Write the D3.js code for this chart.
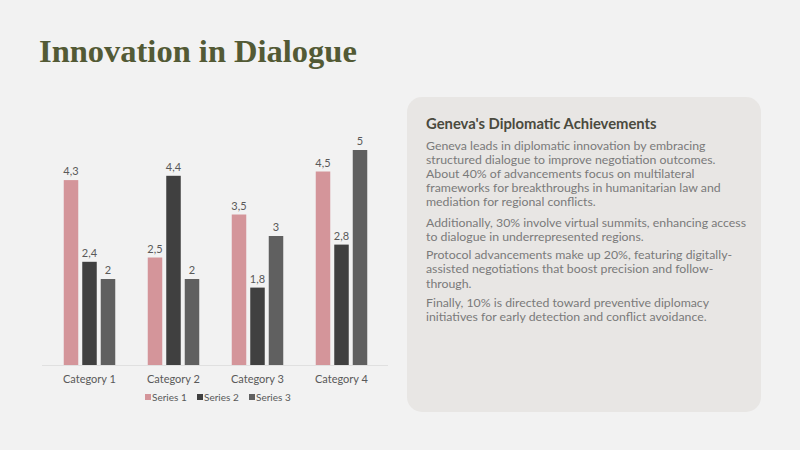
<!DOCTYPE html>
<html>
<head>
<meta charset="utf-8">
<script src="https://cdn.jsdelivr.net/npm/d3@7"></script>
<style>
  html, body { margin: 0; padding: 0; background: #f2f2f2; }
  svg { display: block; }
</style>
</head>
<body>
<div id="slide"></div>
<script>
// chart values
const categories = ["Category 1", "Category 2", "Category 3", "Category 4"];
const seriesNames = ["Series 1", "Series 2", "Series 3"];
const series1 = [4.3, 2.5, 3.5, 4.5];
const series2 = [2.4, 4.4, 1.8, 2.8];
const series3 = [2, 2, 3, 5];
const seriesColors = ["#d4959a", "#404040", "#606060"];

// side panel text
const panelTitle = "Geneva's Diplomatic Achievements";
const paragraphs = [
  ["Geneva leads in diplomatic innovation by embracing",
   "structured dialogue to improve negotiation outcomes.",
   "About 40% of advancements focus on multilateral",
   "frameworks for breakthroughs in humanitarian law and",
   "mediation for regional conflicts."],
  ["Additionally, 30% involve virtual summits, enhancing access",
   "to dialogue in underrepresented regions."],
  ["Protocol advancements make up 20%, featuring digitally-",
   "assisted negotiations that boost precision and follow-",
   "through."],
  ["Finally, 10% is directed toward preventive diplomacy",
   "initiatives for early detection and conflict avoidance."]
];

const W = 800, H = 450;
const svg = d3.select("#slide").append("svg")
  .attr("width", W).attr("height", H)
  .attr("viewBox", `0 0 ${W} ${H}`);

svg.append("rect").attr("width", W).attr("height", H).attr("fill", "#f2f2f2");

// slide title
svg.append("text")
  .attr("x", 39).attr("y", 62)
  .attr("font-family", "'Liberation Serif', 'DejaVu Serif', serif")
  .attr("font-weight", "bold")
  .attr("font-size", 32.5)
  .attr("fill", "#535a35")
  .text("Innovation in Dialogue");

// bar chart
const baseY = 365, topY = 150;
const x0 = d3.scaleBand().domain(categories).range([47.5, 383.5]).padding(0);
const x1 = d3.scaleBand().domain(seriesNames).range([16.25, 67.75]).paddingInner(4 / 18.5);
const y = d3.scaleLinear().domain([0, 5]).range([baseY, topY]);
const fmt = v => String(v).replace(".", ",");

const rows = categories.map((c, i) => ({
  cat: c,
  vals: [series1[i], series2[i], series3[i]].map((v, j) => ({ name: seriesNames[j], value: v, color: seriesColors[j] }))
}));

// baseline
svg.append("line")
  .attr("x1", 42).attr("x2", 388)
  .attr("y1", baseY + 0.5).attr("y2", baseY + 0.5)
  .attr("stroke", "#e0e0e0").attr("stroke-width", 1);

const groups = svg.selectAll(".cat")
  .data(rows)
  .enter().append("g")
  .attr("class", "cat")
  .attr("transform", d => `translate(${x0(d.cat)},0)`);

groups.selectAll("rect")
  .data(d => d.vals)
  .enter().append("rect")
  .attr("x", d => x1(d.name))
  .attr("y", d => y(d.value))
  .attr("width", x1.bandwidth())
  .attr("height", d => baseY - y(d.value))
  .attr("fill", d => d.color);

groups.selectAll(".lbl")
  .data(d => d.vals)
  .enter().append("text")
  .attr("class", "lbl")
  .attr("x", d => x1(d.name) + x1.bandwidth() / 2)
  .attr("y", d => y(d.value) - 5)
  .attr("text-anchor", "middle")
  .attr("font-family", "Lato, 'Open Sans', sans-serif")
  .attr("font-size", 11)
  .attr("fill", "#595959")
  .text(d => fmt(d.value));

// category axis
const xAxis = svg.append("g")
  .attr("transform", `translate(0,${baseY + 18})`);
xAxis.selectAll("text")
  .data(categories)
  .enter().append("text")
  .attr("x", d => x0(d) + x0.bandwidth() / 2)
  .attr("text-anchor", "middle")
  .attr("font-family", "Lato, 'Open Sans', sans-serif")
  .attr("font-size", 11)
  .attr("fill", "#595959")
  .text(d => d);

// legend
const legend = svg.append("g").attr("transform", "translate(145,401)");
const lg = legend.selectAll("g")
  .data(seriesNames)
  .enter().append("g")
  .attr("transform", (d, i) => `translate(${i * 52},0)`);
lg.append("rect")
  .attr("x", 0).attr("y", -7)
  .attr("width", 6).attr("height", 6)
  .attr("fill", (d, i) => seriesColors[i]);
lg.append("text")
  .attr("x", 7)
  .attr("font-family", "Lato, 'Open Sans', sans-serif")
  .attr("font-size", 10)
  .attr("fill", "#595959")
  .text(d => d);

// side panel
svg.append("rect")
  .attr("x", 407).attr("y", 97)
  .attr("width", 354).attr("height", 315)
  .attr("rx", 15).attr("ry", 15)
  .attr("fill", "#e8e6e4");

svg.append("text")
  .attr("x", 426).attr("y", 129)
  .attr("font-family", "Lato, 'Open Sans', sans-serif")
  .attr("font-weight", "bold")
  .attr("font-size", 14.8)
  .attr("fill", "#4a4a3e")
  .text(panelTitle);

const paraStarts = [150, 226.7, 259.3, 307.3];
const lineH = 14.1;
const body = svg.append("g")
  .attr("font-family", "Lato, 'Open Sans', sans-serif")
  .attr("font-size", 12.3)
  .attr("fill", "#7a7a7a");
paragraphs.forEach((lines, p) => {
  body.append("text")
    .selectAll("tspan")
    .data(lines)
    .enter().append("tspan")
    .attr("x", 426)
    .attr("y", (d, i) => paraStarts[p] + i * lineH)
    .text(d => d);
});
</script>
</body>
</html>
